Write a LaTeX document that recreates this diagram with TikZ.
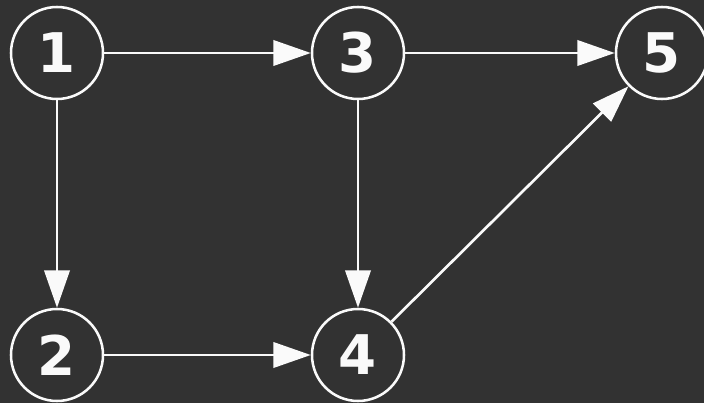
\documentclass[tikz,border=0pt]{standalone}
\usepackage{fontspec}
\setsansfont{DejaVu Sans}
\usetikzlibrary{arrows.meta,positioning}
\definecolor{board}{HTML}{323232}
\definecolor{chalk}{HTML}{FAFAFA}

\begin{document}
\begin{tikzpicture}[x=0.75pt, y=-0.75pt,
  vertex/.style={circle, draw=chalk, line width=1.9pt, minimum size=69pt, inner sep=0pt,
    text=chalk, font=\sffamily\bfseries\fontsize{41}{41}\selectfont},
  edge/.style={draw=chalk, line width=2pt, -{Triangle[length=28pt, width=19pt]}}]
% ---------------- board ----------------
\fill[board] (0,0) rectangle (704,403);
\useasboundingbox (0,0) rectangle (704,403);
% ---------------- vertices ----------------
\node[vertex] (n1) at (57,53) {1};
\node[vertex] (n3) at (358,53) {3};
\node[vertex] (n5) at (662,53) {5};
\node[vertex] (n2) at (57,355) {2};
\node[vertex] (n4) at (358,355) {4};
% ---------------- edges ----------------
\foreach \a/\b in {n1/n3, n3/n5, n1/n2, n3/n4, n2/n4, n4/n5}{\draw[edge] (\a) -- (\b);}
\end{tikzpicture}
\end{document}
